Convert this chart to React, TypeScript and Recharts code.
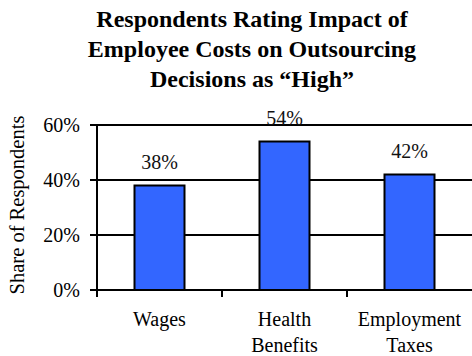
import React from "react";
import { BarChart, Bar, XAxis, YAxis, CartesianGrid, LabelList, Label } from "recharts";

const categories = ["Wages", "Health Benefits", "Employment Taxes"];
const tickLines = [["Wages"], ["Health", "Benefits"], ["Employment", "Taxes"]];
const shareHigh = [38, 54, 42];
const yTicks = [0, 20, 40, 60];
const titleLines = ["Respondents Rating Impact of", "Employee Costs on Outsourcing", "Decisions as \u201cHigh\u201d"];
const yTitle = "Share of Respondents";

const data = categories.map((c, i) => ({ name: c, value: shareHigh[i], lines: tickLines[i] }));

const FONT = "'Liberation Serif', 'Times New Roman', serif";

const XTick = (props: any) => {
  const { x, y, payload, index } = props;
  const off = payload && payload.offset != null ? payload.offset : 0;
  const x0 = x - off;
  const lines = tickLines[index] || [String(payload.value)];
  return (
    <g>
      <line x1={x0} y1={y - 7} x2={x0} y2={y} stroke="#000" strokeWidth={2} />
      <text x={x} y={y} textAnchor="middle" fontFamily={FONT} fontSize={20} fill="#000">
        {lines.map((l: string, i: number) => (
          <tspan key={i} x={x} dy={i === 0 ? 29 : 26}>{l}</tspan>
        ))}
      </text>
    </g>
  );
};

export default function App() {
  return (
    <div style={{ position: "absolute", left: 0, top: 0, width: 472, height: 356, background: "#fff", overflow: "hidden" }}>
      <div
        style={{
          position: "absolute",
          left: 52,
          top: 4,
          width: 400,
          textAlign: "center",
          fontFamily: FONT,
          fontWeight: "bold",
          fontSize: 24,
          lineHeight: "30px",
          color: "#000",
        }}
      >
        {titleLines.map((t, i) => (
          <div key={i}>{t}</div>
        ))}
      </div>
      <div style={{ position: "absolute", left: 0, top: 0 }}>
        <BarChart width={472} height={356} data={data} margin={{ top: 125, right: 0, bottom: 0, left: 0 }} barCategoryGap="30%">
          <CartesianGrid vertical={false} stroke="#000" strokeWidth={2} horizontalValues={yTicks} />
          <XAxis
            dataKey="name"
            height={66}
            tickLine={false}
            tickSize={7}
            tickMargin={0}
            axisLine={{ stroke: "#000", strokeWidth: 2 }}
            tick={<XTick />}
            interval={0}
          />
          <YAxis
            width={97}
            domain={[0, 60]}
            ticks={yTicks}
            tickSize={7}
            tickMargin={10}
            tickFormatter={(v: number) => `${v}%`}
            tickLine={{ stroke: "#000", strokeWidth: 2 }}
            axisLine={{ stroke: "#000", strokeWidth: 2 }}
            tick={{ fill: "#000", fontFamily: FONT, fontSize: 20 }}
          >
            <Label
              content={() => (
                <text x={24} y={205} transform="rotate(-90 24 205)" textAnchor="middle" fontFamily={FONT} fontSize={20.5} fill="#000">
                  {yTitle}
                </text>
              )}
            />
          </YAxis>
          <Bar dataKey="value" fill="#3366FF" stroke="#000" strokeWidth={2} isAnimationActive={false}>
            <LabelList
              dataKey="value"
              position="top"
              offset={17}
              formatter={(v: any) => `${v}%`}
              fill="#111"
              fontFamily={FONT}
              fontSize={20}
            />
          </Bar>
        </BarChart>
      </div>
    </div>
  );
}
